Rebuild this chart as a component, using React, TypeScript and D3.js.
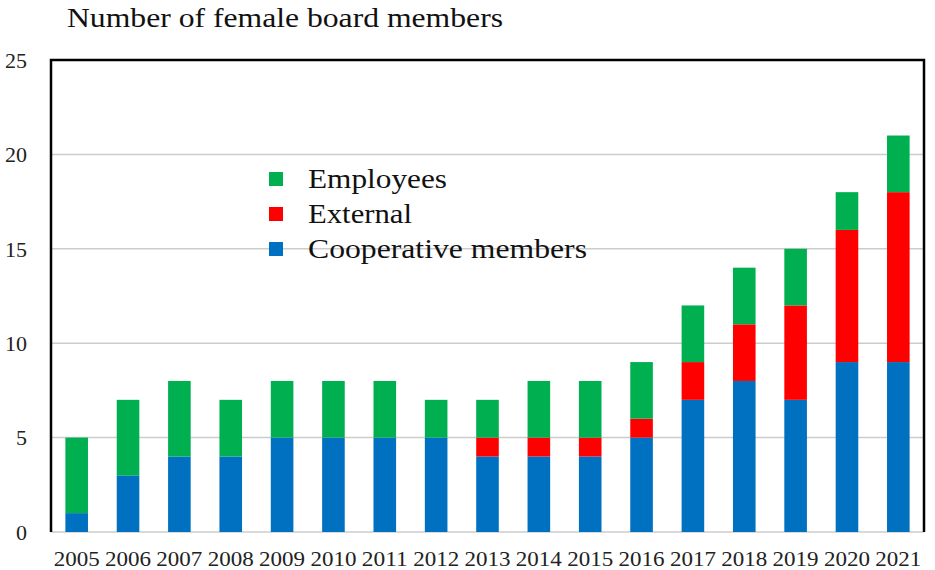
import React from 'react'
import * as d3 from 'd3'

const years = ['2005', '2006', '2007', '2008', '2009', '2010', '2011', '2012', '2013', '2014', '2015', '2016', '2017', '2018', '2019', '2020', '2021']
const cooperative = [1, 3, 4, 4, 5, 5, 5, 5, 4, 4, 4, 5, 7, 8, 7, 9, 9]
const external = [0, 0, 0, 0, 0, 0, 0, 0, 1, 1, 1, 1, 2, 3, 5, 7, 9]
const employees = [4, 4, 4, 3, 3, 3, 3, 2, 2, 3, 3, 3, 3, 3, 3, 2, 3]
const yTicks = [0, 5, 10, 15, 20, 25]

const seriesKeys = ['cooperative', 'external', 'employees'] as const
const colors: Record<string, string> = {
  cooperative: '#0070C0',
  external: '#FF0000',
  employees: '#00B050',
}
const legendItems = [
  { key: 'employees', label: 'Employees', len: 139 },
  { key: 'external', label: 'External', len: 104 },
  { key: 'cooperative', label: 'Cooperative members', len: 279 },
]

const font = '"Liberation Serif", "Times New Roman", serif'

export default function App() {
  const width = 935
  const height = 570
  const left = 51, right = 924, top = 60, bottom = 532

  const rows = years.map((y, i) => ({
    year: y,
    cooperative: cooperative[i],
    external: external[i],
    employees: employees[i],
  }))
  const stacked = d3.stack<any>().keys(seriesKeys as any)(rows)

  const x = d3.scaleBand().domain(years).range([left, right]).paddingInner(0.56).paddingOuter(0.28)
  const y = d3.scaleLinear().domain([0, 25]).range([bottom, top])

  return (
    <svg width={width} height={height} style={{ position: 'absolute', left: 0, top: 0, background: '#fff' }}>
      <rect width={width} height={height} fill="#fff" />
      <text x={67} y={27} fontFamily={font} fontSize={28} fill="#111" textLength={436} lengthAdjust="spacingAndGlyphs">Number of female board members</text>
      {yTicks.map(t => (
        <g key={t}>
          {t > 0 && t < 25 && (
            <line x1={left} x2={right} y1={y(t)} y2={y(t)} stroke="#cccccc" strokeWidth={1.5} />
          )}
          <text x={27} y={y(t)} dy="0.35em" textAnchor="end" fontFamily={font} fontSize={22} fill="#222">{t}</text>
        </g>
      ))}
      <line x1={left} x2={right} y1={bottom} y2={bottom} stroke="#cccccc" strokeWidth={1.5} />
      {stacked.map(s => (
        <g key={s.key} fill={colors[s.key]}>
          {s.map((d, i) => (
            d[1] - d[0] > 0 ? (
              <rect key={i} x={x(years[i])} width={x.bandwidth()} y={y(d[1])} height={y(d[0]) - y(d[1])} />
            ) : null
          ))}
        </g>
      ))}
      <path d={`M${left},${bottom}V${top}H${right}V${bottom}`} fill="none" stroke="#000" strokeWidth={2.5} />
      {years.map(yr => (
        <text key={yr} x={(x(yr) as number) + x.bandwidth() / 2} y={566} textAnchor="middle" fontFamily={font} fontSize={21} fill="#222" textLength={46} lengthAdjust="spacingAndGlyphs">{yr}</text>
      ))}
      {legendItems.map((it, i) => (
        <g key={it.key} transform={`translate(269,${172 + i * 35})`}>
          <rect width={14} height={14} fill={colors[it.key]} />
          <text x={39} y={16} fontFamily={font} fontSize={27} fill="#111" textLength={it.len} lengthAdjust="spacingAndGlyphs">{it.label}</text>
        </g>
      ))}
    </svg>
  )
}
